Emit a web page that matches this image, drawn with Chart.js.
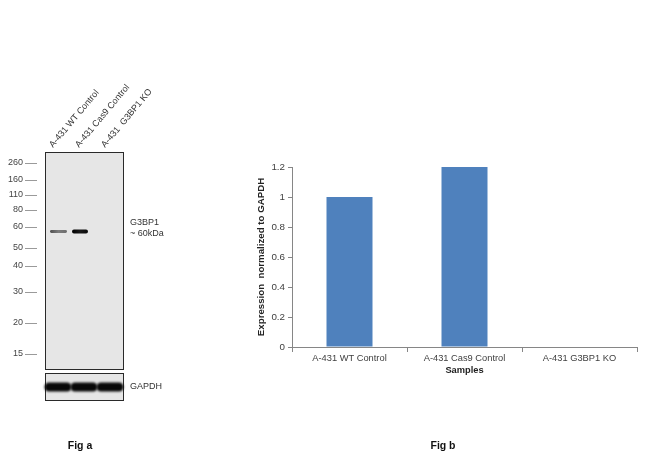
<!DOCTYPE html>
<html>
<head>
<meta charset="utf-8">
<script src="https://cdn.jsdelivr.net/npm/chart.js@4.4.1/dist/chart.umd.min.js"></script>
<style>
  html, body { margin: 0; padding: 0; background: #fff; }
  #wrap { width: 650px; height: 461px; position: relative; }
</style>
</head>
<body>
<div id="wrap"><canvas id="fig"></canvas></div>
<script>
// Fig b data
const samples = ['A-431 WT Control', 'A-431 Cas9 Control', 'A-431 G3BP1 KO']
const expression = [1, 1.2, 0]
const yTicks = [0, 0.2, 0.4, 0.6, 0.8, 1, 1.2]

// Fig a data (blot)
const lanes = ['A-431 WT Control', 'A-431 Cas9 Control', 'A-431  G3BP1 KO']
const markers = ['260', '160', '110', '80', '60', '50', '40', '30', '20', '15']
const g3bp1Band = [0.45, 1, 0]
const gapdhBand = [1, 1, 1]

const FONT = '"Liberation Sans", Arial, sans-serif'

// blot layout (pixels)
const blot = {
    left: 45, right: 123, top: 152, bottom: 369,
    gTop: 373, gBottom: 400,
    markerY: [163, 180, 195, 210, 227, 248, 266, 292, 323, 354],
    bandY: 231.5,
    bandX: [[50, 67], [72, 88], [98, 114]]
}

function bandPath(ctx, x0, x1, y, h) {
    const r = h / 2
    ctx.beginPath()
    ctx.moveTo(x0 + r, y - r)
    ctx.lineTo(x1 - r, y - r)
    ctx.arc(x1 - r, y, r, -Math.PI / 2, Math.PI / 2)
    ctx.lineTo(x0 + r, y + r)
    ctx.arc(x0 + r, y, r, Math.PI / 2, Math.PI * 1.5)
    ctx.closePath()
}

function drawBlot(ctx) {
    const w = blot.right - blot.left
    const laneW = w / lanes.length
    ctx.save()

    // main membrane
    ctx.fillStyle = '#e6e6e6'
    ctx.fillRect(blot.left, blot.top, w, blot.bottom - blot.top)
    ctx.strokeStyle = '#2a2a2a'
    ctx.lineWidth = 1
    ctx.strokeRect(blot.left + 0.5, blot.top + 0.5, w, blot.bottom - blot.top)

    // G3BP1 bands
    ctx.filter = 'blur(0.6px)'
    g3bp1Band.forEach((v, i) => {
        if (v <= 0) return
        const [x0, x1] = blot.bandX[i]
        const g = Math.round(190 - 180 * v)
        const grad = ctx.createLinearGradient(x0, 0, x1, 0)
        grad.addColorStop(0, 'rgb(' + (g - 30) + ',' + (g - 30) + ',' + (g - 30) + ')')
        grad.addColorStop(0.5, 'rgb(' + (g + 15) + ',' + (g + 15) + ',' + (g + 15) + ')')
        grad.addColorStop(1, 'rgb(' + g + ',' + g + ',' + g + ')')
        ctx.fillStyle = grad
        bandPath(ctx, x0, x1, blot.bandY, 2 + 2 * v)
        ctx.fill()
    })
    ctx.filter = 'none'

    // GAPDH membrane
    ctx.fillStyle = '#e6e6e6'
    ctx.fillRect(blot.left, blot.gTop, w, blot.gBottom - blot.gTop)
    ctx.strokeRect(blot.left + 0.5, blot.gTop + 0.5, w, blot.gBottom - blot.gTop)
    ctx.filter = 'blur(0.8px)'
    const gy = (blot.gTop + blot.gBottom) / 2 + 0.5
    gapdhBand.forEach((v, i) => {
        const cx = blot.left + laneW * i + laneW / 2
        ctx.fillStyle = '#080808'
        bandPath(ctx, cx - laneW / 2 - 0.5, cx + laneW / 2 + 0.5, gy, 9 * v)
        ctx.fill()
    })
    ctx.filter = 'none'

    // marker ladder
    ctx.font = '9px ' + FONT
    ctx.fillStyle = '#444'
    ctx.textAlign = 'right'
    ctx.textBaseline = 'middle'
    ctx.strokeStyle = '#9a9a9a'
    markers.forEach((m, i) => {
        const y = blot.markerY[i]
        ctx.fillText(m, 23, y)
        ctx.beginPath()
        ctx.moveTo(25, y + 0.5)
        ctx.lineTo(37, y + 0.5)
        ctx.stroke()
    })

    // right labels
    ctx.textAlign = 'left'
    ctx.fillStyle = '#333'
    ctx.fillText('G3BP1', 130, 222.5)
    ctx.fillText('~ 60kDa', 130, 234)
    ctx.fillText('GAPDH', 130, 387)

    // lane labels
    lanes.forEach((name, i) => {
        const x = blot.left + laneW * i + 8
        ctx.save()
        ctx.translate(x, blot.top - 4)
        ctx.rotate(-50 * Math.PI / 180)
        ctx.textBaseline = 'alphabetic'
        ctx.fillStyle = '#333'
        ctx.fillText(name, 0, 0)
        ctx.restore()
    })

    // figure captions
    ctx.font = 'bold 10.5px ' + FONT
    ctx.fillStyle = '#111'
    ctx.textAlign = 'center'
    ctx.fillText('Fig a', 80, 446)
    ctx.fillText('Fig b', 443, 446)
    ctx.restore()
}

const blotPlugin = {
    id: 'blot',
    afterDraw(chart) {
        drawBlot(chart.ctx)
    }
}

const ctx = document.getElementById('fig').getContext('2d')
const chart = new Chart(ctx, {
    type: 'bar',
    data: {
        labels: samples,
        datasets: [{
            data: expression,
            backgroundColor: '#4f81bd',
            borderWidth: 0,
            barPercentage: 0.5,
            categoryPercentage: 0.8
        }]
    },
    options: {
        responsive: true,
        maintainAspectRatio: false,
        animation: false,
        layout: { padding: { left: 250, right: 13, top: 167, bottom: 85 } },
        plugins: {
            legend: { display: false },
            tooltip: { enabled: false }
        },
        scales: {
            x: {
                grid: {
                    display: true,
                    drawOnChartArea: false,
                    drawTicks: true,
                    tickLength: 5,
                    color: '#868686',
                    offset: true
                },
                border: { color: '#868686' },
                ticks: {
                    color: '#404040',
                    font: { family: FONT, size: 9.3 },
                    padding: 1,
                    maxRotation: 0
                },
                title: {
                    display: true,
                    text: 'Samples',
                    color: '#222',
                    font: { family: FONT, size: 9.3, weight: 'bold' },
                    padding: { top: 2, bottom: 0 }
                },
                afterFit(scale) { scale.height = 29 }
            },
            y: {
                min: 0,
                max: 1.2,
                afterBuildTicks(scale) {
                    scale.ticks = yTicks.map(v => ({ value: v }))
                },
                grid: {
                    display: true,
                    drawOnChartArea: false,
                    drawTicks: true,
                    tickLength: 4,
                    color: '#868686'
                },
                border: { color: '#868686' },
                ticks: {
                    color: '#404040',
                    font: { family: FONT, size: 9.8 },
                    padding: 3,
                    callback: v => String(v)
                },
                title: {
                    display: true,
                    text: 'Expression  normalized to GAPDH',
                    color: '#222',
                    font: { family: FONT, size: 9.7, weight: 'bold' },
                    padding: { top: 6, bottom: 0 }
                },
                afterFit(scale) { scale.width = 42 }
            }
        }
    },
    plugins: [blotPlugin]
})
</script>
</body>
</html>
